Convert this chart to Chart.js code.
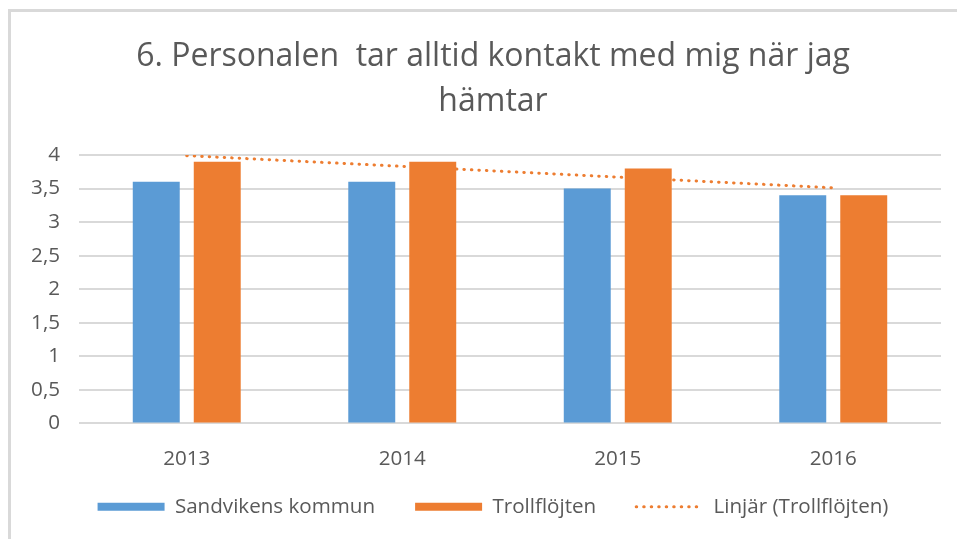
<!DOCTYPE html>
<html>
<head>
<meta charset="utf-8">
<script src="https://cdn.jsdelivr.net/npm/chart.js@4"></script>
<style>
  html, body { margin: 0; padding: 0; background: #fff; overflow: hidden; }
  #ram { position: absolute; left: 8px; top: 9px; width: 960px; height: 540px;
         border-left: 3px solid #d9d9d9; border-top: 3px solid #d9d9d9; }
  #grafico { position: absolute; left: 0; top: 0; }
</style>
</head>
<body>
<div id="ram"></div>
<canvas id="grafico" width="957" height="539"></canvas>
<script>
const kategorier = ['2013', '2014', '2015', '2016'];
const sandviken = [3.6, 3.6, 3.5, 3.4];
const trollflojten = [3.9, 3.9, 3.8, 3.4];
// trendlinjen som den syns i bilden
const linjar = [3.99, 3.83, 3.67, 3.51];
const yEtiketter = ['0', '0,5', '1', '1,5', '2', '2,5', '3', '3,5', '4'];

const textFarg = '#595959';
const typsnitt = '"Open Sans", Lato, sans-serif';
const prickar = [0.5, 7];

const grafico = document.getElementById('grafico');

// etiketterna far hamna utanfor axelns ruta
const ingenKlipp = (skala) => { skala._computeLabelArea = () => undefined; };

const diagram = new Chart(grafico, {
    type: 'bar',
    data: {
        labels: kategorier,
        datasets: [{
            label: 'Sandvikens kommun',
            data: sandviken,
            backgroundColor: '#5B9BD5',
            borderWidth: 0,
            categoryPercentage: 0.566,
            barPercentage: 0.77
        }, {
            label: 'Trollflöjten',
            data: trollflojten,
            backgroundColor: '#ED7D31',
            borderWidth: 0,
            categoryPercentage: 0.566,
            barPercentage: 0.77
        }, {
            type: 'line',
            label: 'Linjär (Trollflöjten)',
            data: linjar,
            borderColor: '#ED7D31',
            backgroundColor: 'rgba(0,0,0,0)',
            borderWidth: 3,
            borderDash: prickar,
            borderCapStyle: 'round',
            pointRadius: 0,
            tension: 0,
            fill: false
        }]
    },
    options: {
        responsive: false,
        animation: false,
        layout: { padding: { left: 45, right: 16, top: 0, bottom: 12 } },
        scales: {
            x: {
                grid: { display: false },
                border: { display: false },
                ticks: { color: textFarg, font: { family: typsnitt, size: 20.6 }, padding: 15 },
                afterFit: (skala) => { skala.height = 33; },
                afterUpdate: ingenKlipp
            },
            y: {
                min: 0,
                max: 4,
                grid: { color: '#d9d9d9', lineWidth: 2, drawTicks: false },
                border: { display: false },
                ticks: {
                    stepSize: 0.5,
                    color: textFarg,
                    font: { family: typsnitt, size: 20.6 },
                    padding: 19,
                    callback: (v, i) => yEtiketter[i]
                },
                afterFit: (skala) => { skala.width = 34; },
                afterUpdate: ingenKlipp
            }
        },
        plugins: {
            title: {
                display: true,
                text: ['6. Personalen  tar alltid kontakt med mig när jag', 'hämtar'],
                color: textFarg,
                font: { family: typsnitt, size: 32, weight: 'normal', lineHeight: 1.39 },
                padding: { top: 35, bottom: 31 }
            },
            legend: {
                position: 'bottom',
                labels: {
                    color: textFarg,
                    font: { family: typsnitt, size: 20.6 },
                    usePointStyle: true,
                    pointStyleWidth: 67,
                    boxHeight: 8,
                    padding: 40,
                    generateLabels: (chart) => {
                        const lista = Chart.defaults.plugins.legend.labels.generateLabels(chart);
                        lista.forEach((l, i) => {
                            l.pointStyle = i === 2 ? 'line' : 'rect';
                            if (i === 2) {
                                l.lineWidth = 3;
                                l.lineDash = prickar;
                                l.lineCap = 'round';
                                l.strokeStyle = '#ED7D31';
                            }
                        });
                        return lista;
                    }
                }
            },
            tooltip: { enabled: false }
        }
    }
});
</script>
</body>
</html>
